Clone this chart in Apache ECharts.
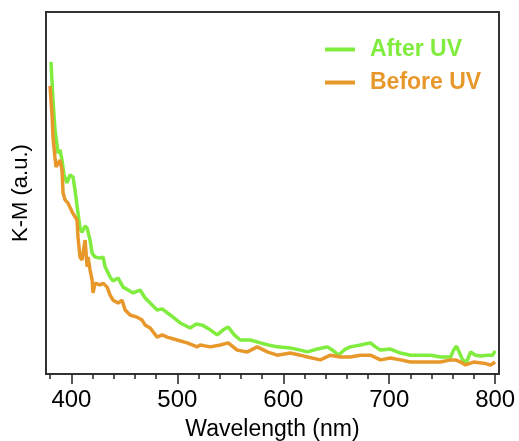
<!DOCTYPE html>
<html>
<head>
<meta charset="utf-8">
<script src="https://cdn.jsdelivr.net/npm/echarts@6/dist/echarts.min.js"></script>
<style>html,body{margin:0;padding:0;background:#fff}#c{width:519px;height:441px}</style>
</head>
<body>
<div id="c"></div>
<script>
var seriesNames = ['After UV', 'Before UV'];
var majorTicks = [400, 500, 600, 700, 800];
var minorTicks = [380, 420, 440, 460, 480, 520, 540, 560, 580, 620, 640, 660, 680, 720, 740, 760, 780];
var afterUV = [[380.7,86.2],[382.6,75.7],[384.5,67.4],[386.4,63.3],[387.3,61.0],[389.2,61.9],[391.1,59.1],[393.0,55.0],[395.8,52.8],[398.7,55.0],[401.5,54.4],[403.4,50.8],[406.2,44.5],[408.1,40.3],[410.0,39.2],[412.9,40.9],[414.8,40.3],[417.6,37.0],[419.5,33.4],[422.3,32.3],[427.0,32.0],[429.9,32.3],[431.8,29.6],[436.5,26.8],[439.3,25.7],[444.1,26.5],[448.8,24.0],[453.5,23.2],[458.2,22.4],[464.8,23.2],[469.6,21.0],[474.3,19.6],[480.9,17.7],[485.6,18.0],[493.2,16.3],[502.7,14.1],[512.1,12.7],[517.8,13.8],[523.5,13.5],[531.0,12.2],[537.6,10.8],[543.3,12.2],[548.0,13.0],[553.7,10.8],[559.4,9.4],[568.8,9.4],[578.3,8.6],[585.8,8.0],[594.3,7.5],[606.6,7.2],[616.1,6.6],[622.7,6.1],[632.1,6.9],[641.6,7.5],[647.3,6.4],[652.0,5.2],[658.6,6.9],[663.3,7.5],[672.8,8.0],[682.2,8.6],[687.0,7.5],[691.7,6.6],[701.1,6.9],[710.6,5.8],[720.1,5.2],[729.5,5.2],[739.0,5.2],[748.4,4.7],[757.9,4.7],[760.7,6.6],[763.5,7.7],[766.4,5.8],[769.2,3.9],[773.0,3.3],[776.8,6.1],[781.5,5.2],[786.2,5.0],[792.8,5.2],[797.6,5.2],[800.0,6.4]];
var beforeUV = [[379.8,79.6],[381.7,71.5],[382.6,65.5],[384.5,59.7],[385.5,57.2],[387.3,57.2],[389.2,59.1],[391.1,56.4],[392.1,50.0],[394.0,48.1],[396.8,47.2],[400.6,44.8],[401.5,45.3],[405.3,42.5],[406.2,37.8],[408.1,32.3],[410.0,31.5],[412.9,37.0],[414.8,29.6],[415.7,32.3],[417.6,28.7],[419.5,26.0],[420.4,22.4],[422.3,25.1],[427.0,24.6],[429.9,25.1],[433.7,24.0],[436.5,21.8],[439.3,20.4],[444.1,19.6],[447.8,20.4],[450.7,17.7],[455.4,16.3],[462.0,15.7],[466.7,14.9],[469.6,13.5],[474.3,12.7],[480.9,10.2],[485.6,10.8],[490.4,10.2],[499.8,9.4],[509.3,8.6],[518.7,7.5],[521.6,8.0],[531.0,7.5],[540.5,8.0],[548.0,8.6],[556.5,6.6],[566.0,6.1],[575.4,7.5],[584.9,6.1],[594.3,5.2],[606.6,5.8],[616.1,5.2],[622.7,4.7],[635.0,3.9],[644.4,5.2],[653.9,4.7],[663.3,4.7],[672.8,5.2],[682.2,5.2],[691.7,3.9],[701.1,4.4],[710.6,3.9],[720.1,3.3],[729.5,3.3],[739.0,3.3],[748.4,3.3],[757.9,3.9],[762.6,3.9],[767.3,3.3],[772.0,2.5],[779.6,3.3],[789.1,3.0],[795.7,2.5],[800.0,3.3]];

var GREEN = '#7fec3e';
var ORANGE = '#e8982a';
var FONT = 'Liberation Sans, Arial, Helvetica, sans-serif';

var chart = echarts.init(document.getElementById('c'), null, {renderer: 'canvas'});
chart.setOption({
  animation: false,
  backgroundColor: '#fff',
  grid: {left: 46, top: 12, right: 20, bottom: 67, outerBoundsMode: 'none', containLabel: false, show: true, borderColor: '#333', borderWidth: 2, backgroundColor: 'transparent'},
  legend: {
    orient: 'vertical',
    left: 320,
    top: 33,
    itemWidth: 30,
    itemHeight: 4,
    itemGap: 10,
    icon: 'rect',
    textStyle: {fontFamily: FONT, fontSize: 23, fontWeight: 'bold', padding: [0, 0, 0, 10]},
    data: [
      {name: seriesNames[0], textStyle: {color: GREEN}},
      {name: seriesNames[1], textStyle: {color: ORANGE}}
    ]
  },
  xAxis: [{
    type: 'value', min: 376, max: 803.6,
    name: 'Wavelength (nm)', nameLocation: 'middle', nameGap: 44,
    nameTextStyle: {fontFamily: FONT, fontSize: 23, color: '#000'},
    axisLine: {show: false},
    splitLine: {show: false},
    axisTick: {show: true, length: 10, lineStyle: {color: '#222', width: 1.5}, customValues: majorTicks},
    axisLabel: {fontFamily: FONT, fontSize: 24, color: '#000', margin: 14, customValues: majorTicks}
  }, {
    type: 'value', min: 376, max: 803.6, position: 'bottom',
    axisLine: {show: false},
    splitLine: {show: false},
    axisTick: {show: true, length: 5, lineStyle: {color: '#222', width: 1.5}, customValues: minorTicks},
    axisLabel: {show: false}
  }],
  yAxis: {
    type: 'value', min: 0, max: 100,
    name: 'K-M (a.u.)', nameLocation: 'middle', nameGap: 14,
    nameTextStyle: {fontFamily: FONT, fontSize: 22, color: '#000'},
    axisLine: {show: false}, axisTick: {show: false}, axisLabel: {show: false}, splitLine: {show: false}
  },
  series: [
    {name: seriesNames[0], type: 'line', xAxisIndex: 0, data: afterUV, showSymbol: false, symbol: 'none', color: GREEN, lineStyle: {width: 3.5, color: GREEN}},
    {name: seriesNames[1], type: 'line', xAxisIndex: 0, data: beforeUV, showSymbol: false, symbol: 'none', color: ORANGE, lineStyle: {width: 3.5, color: ORANGE}}
  ]
});
</script>
</body>
</html>
